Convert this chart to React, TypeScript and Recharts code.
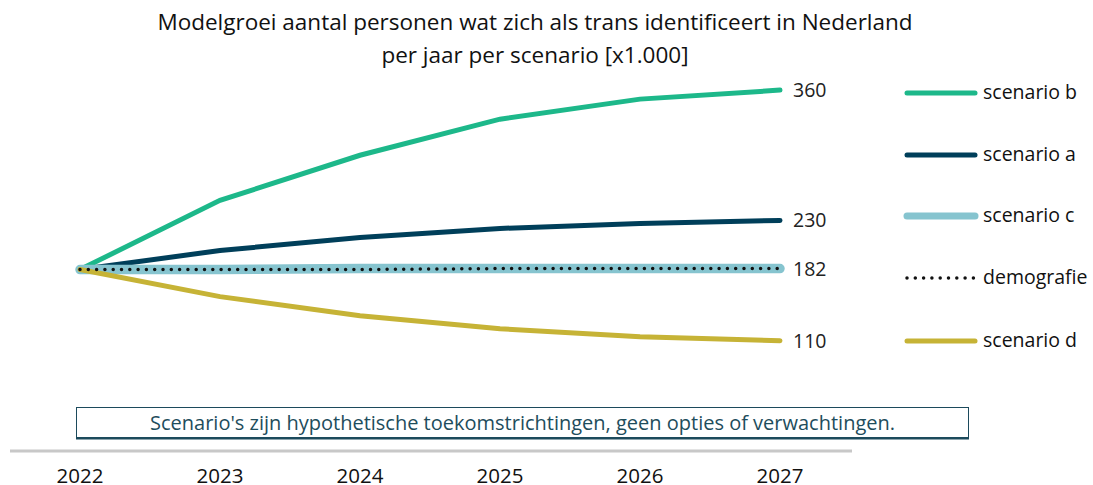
import { LineChart, Line, XAxis, YAxis, LabelList } from "recharts";

const years = ["2022", "2023", "2024", "2025", "2026", "2027"];
const scenarioB = [181, 250, 295, 331, 351, 360];
const scenarioA = [181, 200, 213, 222, 227, 230];
const scenarioC = [181, 181, 182, 182, 182, 182];
const demografie = [181, 181, 181, 182, 182, 182];
const scenarioD = [181, 154, 135, 122, 114, 110];

const series = [
  { key: "b", name: "scenario b", color: "#1db88a", width: 5 },
  { key: "a", name: "scenario a", color: "#003f5a", width: 5 },
  { key: "c", name: "scenario c", color: "#86c4cf", width: 9.5 },
  { key: "dem", name: "demografie", color: "#111111", width: 3.5, dash: "0 8.3" },
  { key: "d", name: "scenario d", color: "#c6b336", width: 5 },
];
const legendY = [93, 155, 216, 278, 341];

const FONT = "'Open Sans', 'Noto Sans', sans-serif";

const data = years.map((y, i) => ({
  year: y,
  b: scenarioB[i],
  a: scenarioA[i],
  c: scenarioC[i],
  dem: demografie[i],
  d: scenarioD[i],
}));

// only draw the value at the last point
const endLabel = (props: any) => {
  const { x, y, value, index } = props;
  if (index !== years.length - 1) return null;
  return (
    <text x={x + 13} y={y} dy={7} fill="#222" fontSize={19.5} fontFamily={FONT}>
      {value}
    </text>
  );
};

export default function App() {
  const drawOrder = ["b", "a", "c", "d", "dem"];
  return (
    <div
      style={{
        position: "absolute",
        left: 0,
        top: 0,
        width: 1093,
        height: 485,
        overflow: "hidden",
        background: "#fff",
        fontFamily: FONT,
      }}
    >
      <div
        style={{
          position: "absolute",
          left: 0,
          top: 5,
          width: 1070,
          textAlign: "center",
          fontSize: 22.5,
          lineHeight: "33px",
          color: "#111",
        }}
      >
        Modelgroei aantal personen wat zich als trans identificeert in Nederland
        <br />
        per jaar per scenario [x1.000]
      </div>
      <LineChart
        width={1093}
        height={510}
        data={data}
        margin={{ top: 50, right: 241, left: 10, bottom: 29 }}
      >
        <XAxis
          dataKey="year"
          padding={{ left: 70, right: 72 }}
          axisLine={{ stroke: "#c8c8c8", strokeWidth: 3 }}
          tickLine={false}
          tickMargin={11}
          tick={{ fill: "#111", fontSize: 20.5, fontFamily: FONT }}
        />
        <YAxis hide domain={[0, 400]} />
        {drawOrder.map((k) => {
          const s = series.find((x) => x.key === k)!;
          const labelled = k === "b" || k === "a" || k === "dem" || k === "d";
          return (
            <Line
              key={k}
              type="linear"
              dataKey={k}
              stroke={s.color}
              strokeWidth={s.width}
              strokeDasharray={s.dash}
              strokeLinecap="round"
              dot={false}
              activeDot={false}
              isAnimationActive={false}
            >
              {labelled && <LabelList dataKey={k} content={endLabel} />}
            </Line>
          );
        })}
      </LineChart>
      {series.map((s, i) => (
        <div key={s.key}>
          <svg
            style={{ position: "absolute", left: 900, top: legendY[i] - 8 }}
            width={80}
            height={16}
          >
            <line
              x1={7}
              x2={75}
              y1={8}
              y2={8}
              stroke={s.color}
              strokeWidth={s.key === "c" ? 7 : s.key === "dem" ? 3.5 : 5}
              strokeDasharray={s.dash}
              strokeLinecap="round"
            />
          </svg>
          <div
            style={{
              position: "absolute",
              left: 983,
              top: legendY[i] - 14,
              fontSize: 19.5,
              lineHeight: "26px",
              color: "#111",
            }}
          >
            {s.name}
          </div>
        </div>
      ))}
      <div
        style={{
          position: "absolute",
          left: 76,
          top: 407,
          width: 891,
          height: 29,
          border: "1.5px solid #1c4a5c",
          boxShadow: "0 1.5px 0 #1c4a5c",
          textAlign: "center",
          fontSize: 20,
          lineHeight: "29px",
          color: "#1e4d5c",
          background: "#fff",
        }}
      >
        Scenario's zijn hypothetische toekomstrichtingen, geen opties of verwachtingen.
      </div>
    </div>
  );
}
